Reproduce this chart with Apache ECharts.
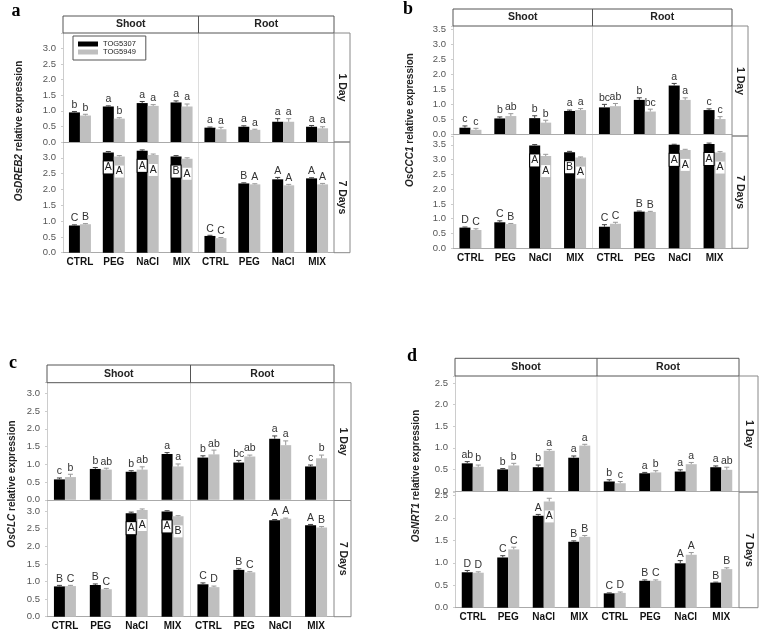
<!DOCTYPE html>
<html>
<head>
<meta charset="utf-8">
<script src="https://cdn.jsdelivr.net/npm/echarts@6/dist/echarts.min.js"></script>
<style>html,body{margin:0;padding:0;background:#fff}#c{width:760px;height:633px}</style>
</head>
<body>
<div id="c"></div>
<script>
// ---------------- DATA ----------------
const categories = ['CTRL','PEG','NaCl','MIX','CTRL','PEG','NaCl','MIX'];
const seriesNames = ['TOG5307','TOG5949'];
const genes = {a:'OsDREB2', b:'OsCCC1', c:'OsCLC', d:'OsNRT1'};

// panel a (OsDREB2)
const a1_TOG5307 = [0.95,1.14,1.25,1.27, 0.46,0.49,0.65,0.49];
const a1_TOG5949 = [0.85,0.75,1.16,1.14, 0.41,0.39,0.65,0.44];
const a1_TOG5307_err = [0.03,0.02,0.05,0.05, 0.02,0.03,0.10,0.04];
const a1_TOG5949_err = [0.04,0.03,0.04,0.08, 0.06,0.02,0.10,0.05];
const a1_TOG5307_let = ['b','a','a','a','a','a','a','a'];
const a1_TOG5949_let = ['b','b','a','a','a','a','a','a'];
const a7_TOG5307 = [0.86,3.17,3.22,3.04, 0.53,2.19,2.32,2.35];
const a7_TOG5949 = [0.90,3.04,3.09,2.97, 0.46,2.16,2.13,2.16];
const a7_TOG5307_err = [0.02,0.03,0.03,0.03, 0.02,0.02,0.06,0.02];
const a7_TOG5949_err = [0.02,0.03,0.03,0.03, 0.02,0.02,0.03,0.03];
const a7_TOG5307_let = ['C','A','A','B','C','B','A','A'];
const a7_TOG5949_let = ['B','A','A','A','C','A','A','A'];

// panel b (OsCCC1)
const b1_TOG5307 = [0.21,0.52,0.53,0.77, 0.89,1.14,1.62,0.80];
const b1_TOG5949 = [0.14,0.60,0.38,0.80, 0.93,0.75,1.14,0.50];
const b1_TOG5307_err = [0.06,0.05,0.08,0.03, 0.10,0.07,0.07,0.04];
const b1_TOG5949_err = [0.05,0.08,0.08,0.05, 0.09,0.08,0.07,0.08];
const b1_TOG5307_let = ['c','b','b','a','bc','b','a','c'];
const b1_TOG5949_let = ['c','ab','b','a','ab','bc','a','c'];
const b7_TOG5307 = [0.70,0.88,3.48,3.25, 0.73,1.24,3.50,3.53];
const b7_TOG5949 = [0.62,0.82,3.12,3.07, 0.83,1.23,3.33,3.24];
const b7_TOG5307_err = [0.02,0.05,0.03,0.03, 0.07,0.02,0.02,0.03];
const b7_TOG5949_err = [0.04,0.02,0.06,0.02, 0.05,0.02,0.02,0.03];
const b7_TOG5307_let = ['D','C','A','B','C','B','A','A'];
const b7_TOG5949_let = ['C','B','A','A','C','B','A','A'];

// panel c (OsCLC)
const c1_TOG5307 = [0.575,0.87,0.79,1.29, 1.19,1.05,1.72,0.94];
const c1_TOG5949 = [0.64,0.85,0.85,0.94, 1.28,1.22,1.54,1.17];
const c1_TOG5307_err = [0.04,0.04,0.03,0.04, 0.05,0.06,0.08,0.04];
const c1_TOG5949_err = [0.08,0.04,0.08,0.07, 0.12,0.04,0.12,0.09];
const c1_TOG5307_let = ['c','b','b','a','b','bc','a','c'];
const c1_TOG5949_let = ['b','ab','ab','a','ab','ab','a','b'];
const c7_TOG5307 = [0.86,0.90,2.94,2.99, 0.92,1.33,2.74,2.60];
const c7_TOG5949 = [0.87,0.78,3.03,2.85, 0.84,1.26,2.78,2.53];
const c7_TOG5307_err = [0.03,0.03,0.03,0.02, 0.04,0.03,0.02,0.02];
const c7_TOG5949_err = [0.02,0.02,0.03,0.02, 0.03,0.02,0.02,0.03];
const c7_TOG5307_let = ['B','B','A','A','C','B','A','A'];
const c7_TOG5949_let = ['C','C','A','B','D','C','A','B'];

// panel d (OsNRT1)
const d1_TOG5307 = [0.64,0.50,0.55,0.77, 0.22,0.41,0.45,0.55];
const d1_TOG5949 = [0.56,0.59,0.93,1.05, 0.18,0.43,0.62,0.49];
const d1_TOG5307_err = [0.04,0.02,0.05,0.04, 0.04,0.02,0.04,0.03];
const d1_TOG5949_err = [0.04,0.05,0.03,0.03, 0.04,0.04,0.04,0.06];
const d1_TOG5307_let = ['ab','b','b','a','b','a','a','a'];
const d1_TOG5949_let = ['b','b','a','a','c','b','a','ab'];
const d7_TOG5307 = [0.79,1.12,2.05,1.47, 0.32,0.60,0.99,0.56];
const d7_TOG5949 = [0.78,1.30,2.37,1.58, 0.33,0.60,1.18,0.86];
const d7_TOG5307_err = [0.04,0.04,0.03,0.02, 0.01,0.02,0.06,0.01];
const d7_TOG5949_err = [0.02,0.05,0.07,0.03, 0.02,0.02,0.05,0.03];
const d7_TOG5307_let = ['D','C','A','B','C','B','A','B'];
const d7_TOG5949_let = ['D','C','A','B','D','C','A','B'];

const panelData = {
  a: [[a1_TOG5307,a1_TOG5949,a1_TOG5307_err,a1_TOG5949_err,a1_TOG5307_let,a1_TOG5949_let],
      [a7_TOG5307,a7_TOG5949,a7_TOG5307_err,a7_TOG5949_err,a7_TOG5307_let,a7_TOG5949_let]],
  b: [[b1_TOG5307,b1_TOG5949,b1_TOG5307_err,b1_TOG5949_err,b1_TOG5307_let,b1_TOG5949_let],
      [b7_TOG5307,b7_TOG5949,b7_TOG5307_err,b7_TOG5949_err,b7_TOG5307_let,b7_TOG5949_let]],
  c: [[c1_TOG5307,c1_TOG5949,c1_TOG5307_err,c1_TOG5949_err,c1_TOG5307_let,c1_TOG5949_let],
      [c7_TOG5307,c7_TOG5949,c7_TOG5307_err,c7_TOG5949_err,c7_TOG5307_let,c7_TOG5949_let]],
  d: [[d1_TOG5307,d1_TOG5949,d1_TOG5307_err,d1_TOG5949_err,d1_TOG5307_let,d1_TOG5949_let],
      [d7_TOG5307,d7_TOG5949,d7_TOG5307_err,d7_TOG5949_err,d7_TOG5307_let,d7_TOG5949_let]]
};

// ---------------- LAYOUT ----------------
const F = '"Liberation Sans", Arial, sans-serif';
const BW = 11;
const layouts = {
  a: {L:63, R:334, hT:16, hB:33, d1B:142, d7T:142, d7B:252.7, sR:350, max:[3.5,3.5], labMax:3.0,
      inside:[[[],[]],[[1,2,3],[1,2,3]]], title:[19,131], tag:[16,11]},
  b: {L:453, R:732, hT:9, hB:26, d1B:134, d7T:136, d7B:248.3, sR:748, max:[3.61,3.8], labMax:3.5,
      inside:[[[],[]],[[2,3,6,7],[2,3,6,7]]], title:[410,120], tag:[408,9]},
  c: {L:47, R:334, hT:365, hB:382.7, d1B:499.8, d7T:500.5, d7B:616.7, sR:351, max:[3.3,3.3], labMax:3.0,
      inside:[[[],[]],[[2,3],[2,3]]], title:[12,484], tag:[13,363]},
  d: {L:455, R:739, hT:358.3, hB:376, d1B:491, d7T:492, d7B:607.7, sR:758, max:[2.66,2.58], labMax:2.5,
      inside:[[[],[]],[[],[2]]], title:[416,476], tag:[412,356]}
};

const option = {
  animation: false,
  backgroundColor: '#fff',
  textStyle: {fontFamily: F},
  legend: {
    left: 73, top: 36, orient: 'vertical', data: seriesNames, icon: 'rect',
    itemWidth: 20, itemHeight: 5, itemGap: 0,
    textStyle: {fontSize: 7.5, color: '#222', fontFamily: F},
    borderColor: '#555', borderWidth: 1, padding: [4, 10, 4, 5], backgroundColor: '#fff'
  },
  grid: [], xAxis: [], yAxis: [], series: [], graphic: []
};

function errSeries(g, vals, errs, letters, inside, sign, color, isBlack) {
  return {
    type: 'custom', xAxisIndex: g, yAxisIndex: g, z: 5, silent: true, clip: false,
    encode: {x: 0, y: 1},
    data: vals.map((v, i) => [i, v, errs[i]]),
    renderItem: function (params, api) {
      const i = api.value(0), v = api.value(1), e = api.value(2);
      const base = api.coord([i, v]);
      const top = api.coord([i, v + e]);
      const x = base[0] + sign * BW / 2;
      const ch = [
        {type: 'line', shape: {x1: x, y1: base[1], x2: x, y2: top[1]}, style: {stroke: color, lineWidth: 1}},
        {type: 'line', shape: {x1: x - 2.5, y1: top[1], x2: x + 2.5, y2: top[1]}, style: {stroke: color, lineWidth: 1}}
      ];
      const t = letters[params.dataIndex];
      if (inside.indexOf(params.dataIndex) >= 0) {
        ch.push({type: 'text', style: {x: x, y: base[1] + 15, text: t, align: 'center', textAlign: 'center',
          verticalAlign: 'middle', textVerticalAlign: 'middle', font: '10.5px ' + F, fill: '#222',
          backgroundColor: '#fff', padding: [1, 1, 0, 1],
          borderColor: isBlack ? '#000' : '#fff', borderWidth: isBlack ? 1 : 0}});
      } else {
        ch.push({type: 'text', style: {x: x, y: top[1] - 1, text: t, align: 'center', textAlign: 'center',
          verticalAlign: 'bottom', textVerticalAlign: 'bottom', font: '10.5px ' + F, fill: '#333'}});
      }
      return {type: 'group', children: ch};
    }
  };
}

let g = 0;
['a','b','c','d'].forEach(function (k) {
  const Ly = layouts[k];
  for (let day = 0; day < 2; day++) {
    const top = day ? Ly.d7T : Ly.hB;
    const bottom = day ? Ly.d7B : Ly.d1B;
    const labMax = Ly.labMax;
    option.grid.push({left: Ly.L, top: top, width: Ly.R - Ly.L, height: bottom - top});
    option.xAxis.push({
      type: 'category', gridIndex: g, data: categories,
      axisTick: {show: false},
      axisLine: {lineStyle: {color: '#aaa'}},
      axisLabel: {show: day === 1, interval: 0, fontWeight: 'bold', fontSize: 10, color: '#111', margin: 5, fontFamily: F}
    });
    option.yAxis.push({
      type: 'value', gridIndex: g, min: 0, max: Ly.max[day], interval: 0.5,
      splitLine: {show: false},
      axisLine: {show: true, lineStyle: {color: '#ccc'}},
      axisTick: {show: true, length: 2, lineStyle: {color: '#ccc'}},
      axisLabel: {fontSize: 9.5, color: '#555', margin: 7, fontFamily: F,
        showMaxLabel: true,
        formatter: function (v) {
          if (Math.abs(v * 2 - Math.round(v * 2)) > 1e-6 || v > labMax + 1e-6) return '';
          return v.toFixed(1);
        }}
    });
    const D = panelData[k][day];
    const ins = Ly.inside[day];
    option.series.push({name: seriesNames[0], type: 'bar', xAxisIndex: g, yAxisIndex: g, data: D[0],
      barWidth: BW, barGap: '0%', itemStyle: {color: '#000'}, silent: true});
    option.series.push({name: seriesNames[1], type: 'bar', xAxisIndex: g, yAxisIndex: g, data: D[1],
      barWidth: BW, barGap: '0%', itemStyle: {color: '#bfbfbf'}, silent: true});
    option.series.push(errSeries(g, D[0], D[2], D[4], ins[0], -1, '#444', true));
    option.series.push(errSeries(g, D[1], D[3], D[5], ins[1], 1, '#999', false));
    g++;
  }

  const mid = (Ly.L + Ly.R) / 2;
  const G = option.graphic;
  // header
  G.push({type: 'rect', shape: {x: Ly.L, y: Ly.hT, width: Ly.R - Ly.L, height: Ly.hB - Ly.hT},
    style: {fill: '#fff', stroke: '#555', lineWidth: 1}, z: 1});
  G.push({type: 'line', shape: {x1: mid, y1: Ly.hT, x2: mid, y2: Ly.hB}, style: {stroke: '#555', lineWidth: 1}, z: 2});
  G.push({type: 'text', x: (Ly.L + mid) / 2, y: (Ly.hT + Ly.hB) / 2,
    style: {text: 'Shoot', align: 'center', textAlign: 'center', verticalAlign: 'middle', textVerticalAlign: 'middle',
      font: 'bold 10.5px ' + F, fill: '#222'}, z: 3});
  G.push({type: 'text', x: (mid + Ly.R) / 2, y: (Ly.hT + Ly.hB) / 2,
    style: {text: 'Root', align: 'center', textAlign: 'center', verticalAlign: 'middle', textVerticalAlign: 'middle',
      font: 'bold 10.5px ' + F, fill: '#222'}, z: 3});
  // plot divider
  G.push({type: 'line', shape: {x1: mid, y1: Ly.hB, x2: mid, y2: Ly.d7B}, style: {stroke: '#ddd', lineWidth: 1}, z: 0});
  // strips
  G.push({type: 'rect', shape: {x: Ly.R, y: Ly.hB, width: Ly.sR - Ly.R, height: Ly.d7T - Ly.hB},
    style: {fill: 'none', stroke: '#888', lineWidth: 1}, z: 1});
  G.push({type: 'rect', shape: {x: Ly.R, y: Ly.d7T, width: Ly.sR - Ly.R, height: Ly.d7B - Ly.d7T},
    style: {fill: 'none', stroke: '#888', lineWidth: 1}, z: 1});
  G.push({type: 'text', x: (Ly.R + Ly.sR) / 2, y: (Ly.hB + Ly.d7T) / 2, rotation: -Math.PI / 2,
    style: {text: '1 Day', align: 'center', textAlign: 'center', verticalAlign: 'middle', textVerticalAlign: 'middle',
      font: 'bold 10.5px ' + F, fill: '#222'}, z: 3});
  G.push({type: 'text', x: (Ly.R + Ly.sR) / 2, y: (Ly.d7T + Ly.d7B) / 2, rotation: -Math.PI / 2,
    style: {text: '7 Days', align: 'center', textAlign: 'center', verticalAlign: 'middle', textVerticalAlign: 'middle',
      font: 'bold 10.5px ' + F, fill: '#222'}, z: 3});
  // y title
  G.push({type: 'text', x: Ly.title[0], y: Ly.title[1], rotation: Math.PI / 2,
    style: {text: '{i|' + genes[k] + '}{n| relative expression}', align: 'center', textAlign: 'center',
      verticalAlign: 'middle', textVerticalAlign: 'middle', font: 'bold 10px ' + F, fill: '#222',
      rich: {i: {fontStyle: 'italic', fontWeight: 'bold', fontSize: 10, fontFamily: F, fill: '#222', color: '#222'},
             n: {fontWeight: 'bold', fontSize: 10, fontFamily: F, fill: '#222', color: '#222'}}}, z: 3});
  // panel tag
  G.push({type: 'text', x: Ly.tag[0], y: Ly.tag[1],
    style: {text: k, align: 'center', textAlign: 'center', verticalAlign: 'middle', textVerticalAlign: 'middle',
      font: 'bold 18px "Liberation Serif", "Times New Roman", serif', fill: '#000'}, z: 3});
});

const chart = echarts.init(document.getElementById('c'), null, {renderer: 'canvas'});
chart.setOption(option);
</script>
</body>
</html>
